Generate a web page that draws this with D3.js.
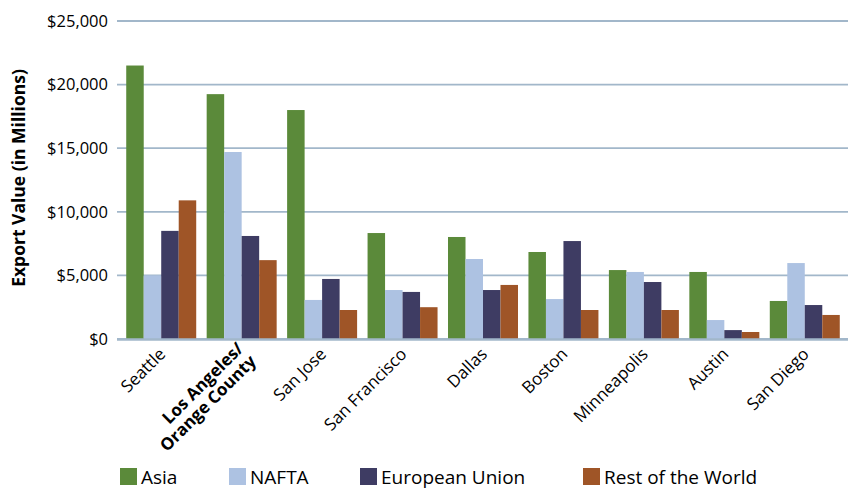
<!DOCTYPE html>
<html>
<head>
<meta charset="utf-8">
<script src="https://cdn.jsdelivr.net/npm/d3@7"></script>
<style>
  body { margin: 0; background: #fff; }
  text { font-family: "Open Sans", sans-serif; }
</style>
</head>
<body>
<div id="chart"></div>
<script>
//chart size
var w = 853;
var h = 489;

//data (millions of dollars)
var cities = ["Seattle", "Los Angeles/\nOrange County", "San Jose", "San Francisco", "Dallas", "Boston", "Minneapolis", "Austin", "San Diego"];
var series = ["Asia", "NAFTA", "European Union", "Rest of the World"];
var asia  = [21500, 19250, 18000, 8330, 8020, 6840, 5420, 5270, 2990];
var nafta = [5000, 14700, 3070, 3850, 6290, 3140, 5270, 1490, 5970];
var eu    = [8500, 8100, 4720, 3700, 3850, 7700, 4480, 700, 2670];
var row   = [10900, 6200, 2280, 2500, 4250, 2280, 2280, 550, 1890];
var yTicks = [0, 5000, 10000, 15000, 20000, 25000];
var colors = ["#5b8a3a", "#adc2e2", "#3e3c63", "#9f5527"];

var values = [asia, nafta, eu, row];

//plot area (named so they don't clash with window.top)
var plotLeft = 121, plotRight = 845, plotTop = 21, plotBottom = 339;

var svg = d3.select("#chart")
            .append("svg")
            .attr("width", w)
            .attr("height", h);

var xscale = d3.scaleBand()
                .domain(cities)
                .range([plotLeft, plotRight])
                .paddingInner(0.13)
                .paddingOuter(0.065);

var x1 = d3.scaleBand()
            .domain(series)
            .range([0, xscale.bandwidth()]);

var yscale = d3.scaleLinear()
                .domain([0, 25000])
                .range([plotBottom, plotTop]);

//gridlines
svg.append("g")
    .selectAll("line")
    .data(yTicks)
    .enter()
    .append("line")
    .attr("x1", plotLeft - 4)
    .attr("x2", plotRight + 3)
    .attr("y1", d => yscale(d))
    .attr("y2", d => yscale(d))
    .attr("stroke", "#a2b7ca")
    .attr("stroke-width", 1.8);

//y axis labels
var yaxis = d3.axisLeft(yscale)
                .tickValues(yTicks)
                .tickSize(0)
                .tickPadding(0)
                .tickFormat(d => "$" + d3.format(",")(d));

var yg = svg.append("g")
    .attr("transform", "translate(108, 0)")
    .call(yaxis);
yg.select(".domain").remove();
yg.selectAll("text")
    .attr("fill", "#000")
    .style("font-size", "16.5px")
    .style("font-family", "'Open Sans', sans-serif");

//y title
svg.append("text")
    .attr("transform", "translate(25, 178) rotate(-90)")
    .attr("text-anchor", "middle")
    .style("font-size", "17.5px")
    .style("font-weight", "bold")
    .text("Export Value (in Millions)");

//bars
var groups = svg.append("g")
    .selectAll("g")
    .data(cities)
    .enter()
    .append("g")
    .attr("transform", d => "translate(" + xscale(d) + ",0)");

groups.selectAll("rect")
    .data((c, i) => series.map((s, j) => ({ s: s, v: values[j][i], j: j })))
    .enter()
    .append("rect")
    .attr("x", d => x1(d.s))
    .attr("y", d => yscale(d.v))
    .attr("width", x1.bandwidth())
    .attr("height", d => plotBottom - yscale(d.v))
    .attr("fill", d => colors[d.j]);

//baseline over the bars
svg.append("line")
    .attr("x1", plotLeft - 4)
    .attr("x2", plotRight + 3)
    .attr("y1", yscale(0) + 0.5)
    .attr("y2", yscale(0) + 0.5)
    .attr("stroke", "#a2b7ca")
    .attr("stroke-width", 2.5);

//city labels, rotated
cities.forEach(function(c, i) {
    var cx = xscale(c) + xscale.bandwidth() / 2;
    var lines = c.split("\n");
    var multi = lines.length > 1;
    var t = svg.append("text")
        .attr("transform", "translate(" + (cx + (multi ? 4 : 1)) + "," + (plotBottom + 12) + ") rotate(-45)")
        .attr("text-anchor", "end")
        .style("font-size", "17px")
        .style("font-weight", multi ? "bold" : "normal");
    lines.forEach(function(l, k) {
        t.append("tspan")
            .attr("x", 0)
            .attr("dy", k == 0 ? (multi ? "-0.1em" : "0.35em") : "1.05em")
            .text(l);
    });
});

//legend
var legendX = [120, 229, 360, 583];
var legend = svg.append("g")
    .selectAll("g")
    .data(series)
    .enter()
    .append("g")
    .attr("transform", (d, i) => "translate(" + legendX[i] + ",468)");

legend.append("rect")
    .attr("width", 17)
    .attr("height", 17)
    .attr("fill", (d, i) => colors[i]);

legend.append("text")
    .attr("x", 21)
    .attr("y", 16)
    .style("font-size", "19px")
    .text(d => d);
</script>
</body>
</html>
